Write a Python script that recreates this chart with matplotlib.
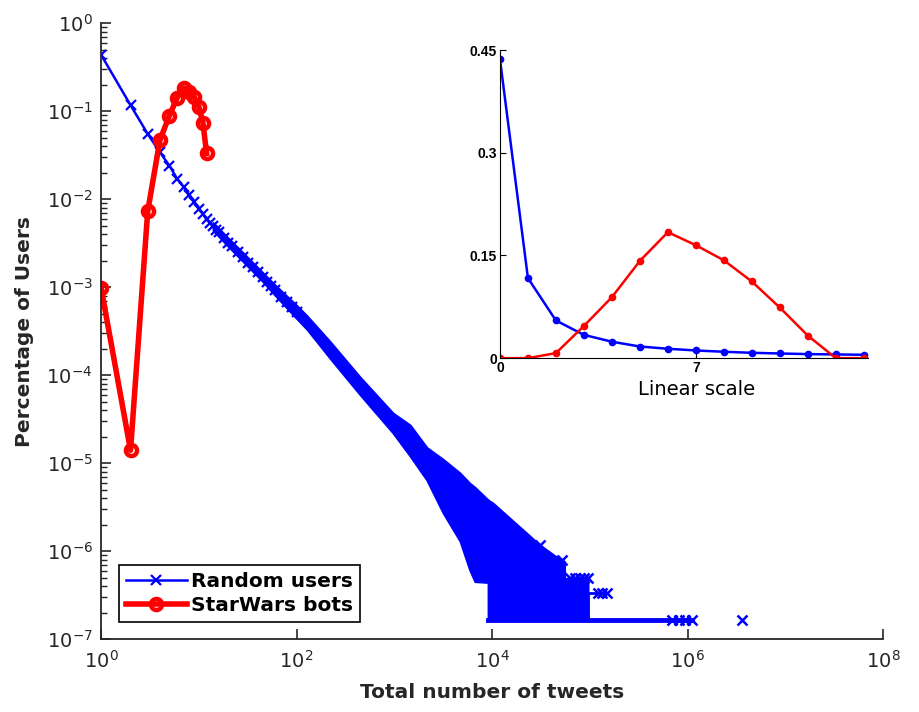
import numpy as np
import matplotlib
matplotlib.use('Agg')
import matplotlib.pyplot as plt
from matplotlib.ticker import LogLocator, NullLocator

# random users: first tweet counts, read point by point
rand_x = [1, 2, 3, 4, 5, 6, 7, 8, 9, 10, 11, 12, 13, 14,
          15, 16, 18, 20, 22, 25, 28, 32, 36, 40, 45, 50, 55, 60, 70, 80, 90, 100]
rand_y = [0.437, 0.117, 0.055, 0.034, 0.024, 0.017, 0.0137, 0.0112, 0.0093,
          0.0078, 0.0068, 0.0059, 0.0054, 0.0049,
          0.0045, 0.0042, 0.0036, 0.0032, 0.0029, 0.0025, 0.0022, 0.0019,
          0.00167, 0.00148, 0.0013, 0.00115, 0.00104, 0.00093, 0.00078, 0.00068,
          0.0006, 0.00052]

# noisy band of the random users (upper / lower edge)
band_x = [14, 20, 30, 45, 60, 100, 128, 220, 445, 968, 1450, 2150, 3160, 4690,
          5900, 6660, 9100]
band_hi = [0.0054, 0.0036, 0.0023, 0.00146, 1.06e-3, 6.2e-4, 4.7e-4, 2.4e-4,
           9.5e-5, 3.7e-5, 2.7e-5, 1.5e-5, 1.1e-5, 7.7e-6, 5.9e-6, 5.3e-6, 3.8e-6]
band_lo = [0.0044, 0.0029, 0.00183, 0.00116, 8.1e-4, 4.4e-4, 3.3e-4, 1.55e-4,
           6.0e-5, 2.2e-5, 1.2e-5, 6.4e-6, 2.7e-6, 1.3e-6, 6.1e-7, 4.5e-7, 4.4e-7]

# tail: from 1e4 tweets the counts sit on the 1-user floor
floor_y = 1.64e-7
tail_x = [9100, 10200, 19200, 30800, 44000, 55000, 55000, 95600]
tail_hi = [3.8e-6, 3.5e-6, 1.87e-6, 1.17e-6, 8.8e-7, 7.6e-7, 4.9e-7, 4.9e-7]
floor_x = [9100, 1.1e6]
out_x = [30800, 51700, 62000, 70000, 79000, 88000, 95600, 120000, 133000, 148000,
         700000, 820000, 950000, 1100000, 3600000]
out_y = [1.17e-6, 8.0e-7, 4.9e-7, 4.9e-7, 4.9e-7, 4.9e-7, 4.9e-7, 3.3e-7, 3.3e-7, 3.3e-7,
         1.64e-7, 1.64e-7, 1.64e-7, 1.64e-7, 1.64e-7]
step_x = [95600, 95600, 148000]
step_y = [1.64e-7, 3.3e-7, 3.3e-7]

# starwars bots
bots_x = [1, 2, 3, 4, 5, 6, 7, 8, 9, 10, 11, 12]
bots_y = [9.8e-4, 1.4e-5, 0.0073, 0.047, 0.089, 0.142, 0.184, 0.165, 0.143,
          0.112, 0.074, 0.033]

# inset, linear scale
lin_x = [0, 1, 2, 3, 4, 5, 6, 7, 8, 9, 10, 11, 12, 13]
lin_rand = [0.437, 0.117, 0.055, 0.034, 0.024, 0.017, 0.0137, 0.0112, 0.0093,
            0.0078, 0.0068, 0.0059, 0.0054, 0.0049]
lin_bots = [0, 0, 0.0073, 0.047, 0.089, 0.142, 0.184, 0.165, 0.143, 0.112,
            0.074, 0.033, 0, 0]

dark = '#262626'

fig = plt.figure(figsize=(9.19, 7.12), dpi=100)
ax = fig.add_axes([0.110, 0.1025, 0.851, 0.865])

# blue mass
ax.fill_between(band_x, band_lo, band_hi, color='b', lw=1.5)
ax.fill_between(tail_x, floor_y, tail_hi, color='b', lw=1.5)
ax.plot(floor_x, [floor_y, floor_y], color='b', lw=3.5)
ax.plot(step_x, step_y, color='b', lw=2)
ax.plot(out_x, out_y, 'x', color='b', ms=7, mew=1.8)
ax.plot(rand_x, rand_y, '-x', color='b', lw=1.8, ms=7, mew=1.6, label='Random users')

ax.plot(bots_x, bots_y, '-o', color='r', lw=4, ms=8, mew=3.2, mfc='none',
        label='StarWars bots')

ax.set_xscale('log')
ax.set_yscale('log')
ax.set_xlim(1, 1e8)
ax.set_ylim(1e-7, 1)
ax.set_xticks([1, 1e2, 1e4, 1e6, 1e8])
ax.xaxis.set_minor_locator(NullLocator())
ax.set_yticks([10.0 ** k for k in range(-7, 1)])
ax.yaxis.set_minor_locator(LogLocator(base=10, subs=np.arange(2, 10), numticks=20))
ax.tick_params(which='both', direction='in', colors=dark, labelsize=14)
ax.tick_params(which='major', length=7, width=1.2)
ax.tick_params(which='minor', length=4, width=1)
ax.tick_params(axis='x', pad=8)
ax.tick_params(axis='y', pad=6)
for s in ['top', 'right']:
    ax.spines[s].set_visible(False)
for s in ['left', 'bottom']:
    ax.spines[s].set_color(dark)
    ax.spines[s].set_linewidth(1.3)
ax.set_xlabel('Total number of tweets', fontsize=14.5, fontweight='bold',
              color=dark, labelpad=8)
ax.set_ylabel('Percentage of Users', fontsize=14.5, fontweight='bold',
              color=dark, labelpad=9)

leg = ax.legend(loc='lower left', bbox_to_anchor=(0.023, 0.0276), borderaxespad=0,
                fontsize=14.5, handlelength=3.0, handletextpad=0.2, numpoints=1,
                fancybox=False, framealpha=1, borderpad=0.35, labelspacing=0.25)
leg.get_frame().set_edgecolor('black')
leg.get_frame().set_linewidth(1.2)
for t in leg.get_texts():
    t.set_fontweight('bold')

# inset
ins = fig.add_axes([0.544, 0.497, 0.4004, 0.4326])
ins.plot(lin_x, lin_rand, '-o', color='b', lw=1.8, ms=4, mew=1.5)
ins.plot(lin_x, lin_bots, '-o', color='r', lw=1.8, ms=4, mew=1.5)
ins.set_xlim(0, 13.15)
ins.set_ylim(0, 0.45)
ins.set_xticks([0, 7])
ins.set_yticks([0, 0.15, 0.3, 0.45])
ins.set_yticklabels(['0', '0.15', '0.3', '0.45'])
ins.tick_params(direction='in', length=4, labelsize=10)
ins.tick_params(axis='x', pad=2)
ins.tick_params(axis='y', pad=2)
for lab in ins.get_xticklabels() + ins.get_yticklabels():
    lab.set_fontweight('bold')
    lab.set_family('Liberation Sans')
for s in ['top', 'right']:
    ins.spines[s].set_visible(False)
ins.set_xlabel('Linear scale', fontsize=14, labelpad=2)
ins.xaxis.set_label_coords(0.535, -0.07)
ins.patch.set_alpha(0)

plt.savefig('out.png', dpi=100)
